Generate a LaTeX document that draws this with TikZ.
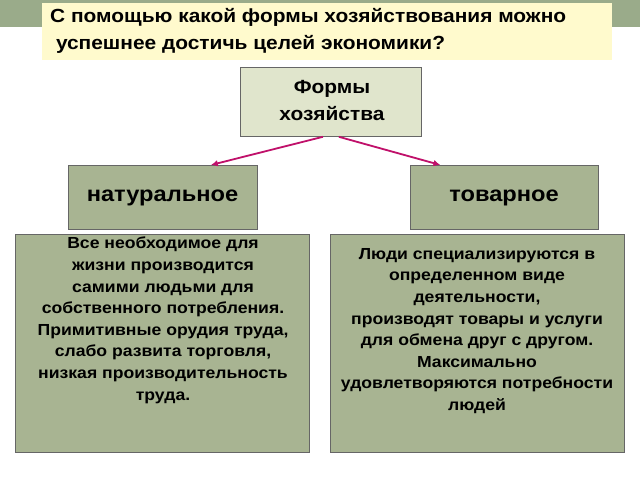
\documentclass[tikz,border=0pt]{standalone}
\usepackage{fontspec}
\setmainfont{Liberation Sans}
\newfontfamily\wide[FakeStretch=1.1]{Liberation Sans}
\usetikzlibrary{arrows.meta}
\begin{document}
\begin{tikzpicture}[x=1pt,y=-1pt,
  box/.style={draw=black!60,line width=0.8pt,inner sep=0pt},
  arr/.style={draw={rgb,255:red,192;green,16;blue,106},line width=1.8pt,-{Latex[length=7pt,width=6.5pt]}}]
\definecolor{band}{RGB}{154,171,138}
\definecolor{yel}{RGB}{255,250,205}
\definecolor{lite}{RGB}{224,229,204}
\definecolor{dark}{RGB}{168,180,146}
\useasboundingbox[fill=white] (0,0) rectangle (640,480);
\fill[band] (0,0) rectangle (640,27);
\node[fill=yel,minimum width=570pt,minimum height=57pt,anchor=north west,inner sep=0pt] (q) at (42,3) {};
\node[anchor=north west,inner sep=0pt,align=left,font=\wide\bfseries\fontsize{19}{27}\selectfont] (qt) at (50,8) {С помощью какой формы хозяйствования можно\\\ успешнее достичь целей экономики?};
\node[box,fill=lite,minimum width=181pt,minimum height=69pt,anchor=north west] (f) at (240,67) {};
\node[font=\wide\bfseries\fontsize{19}{27}\selectfont,align=center] (ft) at (332,101) {Формы\\ хозяйства};
\node[box,fill=dark,minimum width=189pt,minimum height=64pt,anchor=north west] (n) at (68,165) {};
\node[font=\wide\bfseries\fontsize{21.5}{24}\selectfont] at (162.5,198) {натуральное};
\node[box,fill=dark,minimum width=188pt,minimum height=64pt,anchor=north west] (t) at (410,165) {};
\node[font=\wide\bfseries\fontsize{21.5}{24}\selectfont] at (504,198) {товарное};
\node[box,fill=dark,minimum width=294pt,minimum height=218pt,anchor=north west] (l) at (15,234) {};
\node[box,fill=dark,minimum width=294pt,minimum height=218pt,anchor=north west] (r) at (330,234) {};
\node[anchor=north,inner sep=0pt,align=center,font=\wide\bfseries\fontsize{16}{21.6}\selectfont] at (163,237) {Все необходимое для\\жизни производится\\самими людьми для\\собственного потребления.\\Примитивные орудия труда,\\слабо развита торговля,\\низкая производительность\\труда.};
\node[anchor=north,inner sep=0pt,align=center,font=\wide\bfseries\fontsize{16}{21.6}\selectfont] at (477,248) {Люди специализируются в\\определенном виде\\деятельности,\\производят товары и услуги\\для обмена друг с другом.\\Максимально\\удовлетворяются потребности\\людей};
\draw[arr] ([xshift=-8pt]f.south) -- ([xshift=48pt]n.north);
\draw[arr] ([xshift=8pt]f.south) -- ([xshift=-64pt]t.north);
\end{tikzpicture}
\end{document}
